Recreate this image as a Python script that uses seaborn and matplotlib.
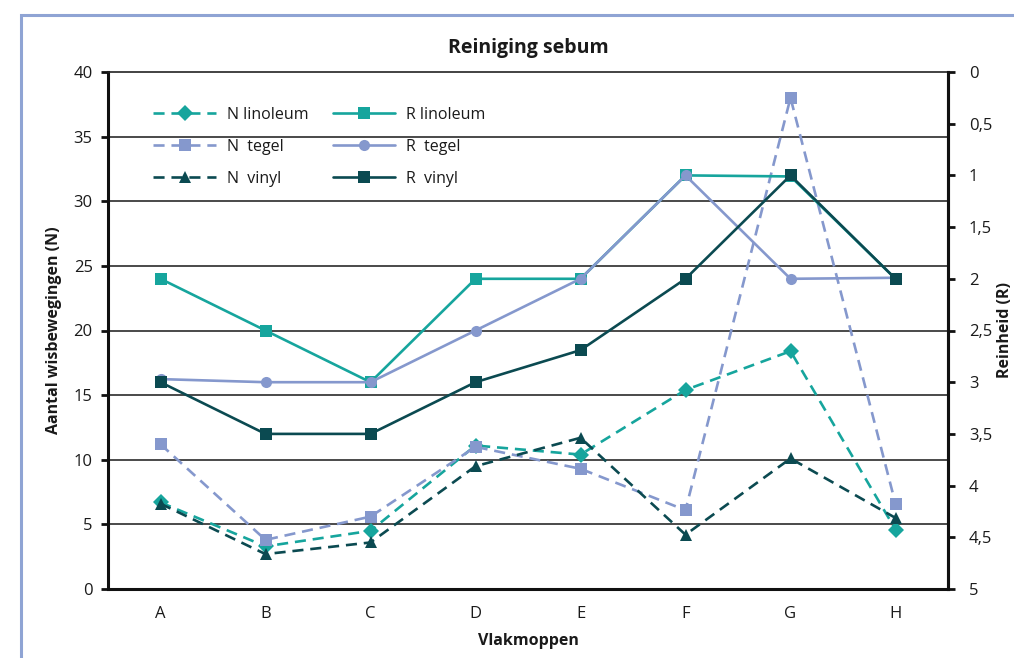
import matplotlib
matplotlib.use("Agg")
import matplotlib.pyplot as plt
from matplotlib.patches import Rectangle
from matplotlib.ticker import FixedLocator, FuncFormatter
import numpy as np
import pandas as pd
import seaborn as sns

# Categories (mop types)
categories = ["A", "B", "C", "D", "E", "F", "G", "H"]

# Number of wiping movements (left axis)
n_linoleum = [6.7, 3.3, 4.5, 11.1, 10.4, 15.4, 18.4, 4.6]
n_tegel = [11.2, 3.8, 5.6, 11.0, 9.3, 6.1, 38.0, 6.6]
n_vinyl = [6.6, 2.7, 3.6, 9.5, 11.7, 4.2, 10.1, 5.5]

# Cleanliness score (right axis, inverted)
r_linoleum = [2.0, 2.5, 3.0, 2.0, 2.0, 1.0, 1.01, 2.0]
r_tegel = [2.97, 3.0, 3.0, 2.5, 2.0, 1.0, 2.0, 1.99]
r_vinyl = [3.0, 3.5, 3.5, 3.0, 2.69, 2.0, 1.0, 2.0]

left_ticks = [0, 5, 10, 15, 20, 25, 30, 35, 40]
right_ticks = [0, 0.5, 1, 1.5, 2, 2.5, 3, 3.5, 4, 4.5, 5]

C_LINO = "#16a59d"
C_TEGEL = "#8598cd"
C_VINYL = "#0b4a51"

sns.set_style("white")
plt.rcParams["font.family"] = ["Open Sans", "DejaVu Sans"]

fig = plt.figure(figsize=(10.14, 6.58), dpi=100)
ax = fig.add_axes([108 / 1014, 1 - 589 / 658, 840 / 1014, 517 / 658])
ax2 = ax.twinx()

xpos = np.arange(len(categories))
df = pd.DataFrame({
    "x": np.tile(xpos, 6),
    "val": n_linoleum + n_tegel + n_vinyl + r_linoleum + r_tegel + r_vinyl,
    "serie": np.repeat(["N linoleum", "N  tegel", "N  vinyl",
                        "R linoleum", "R  tegel", "R  vinyl"], len(categories)),
})

dash = (0, (4.2, 2.6))
specs = [
    ("N linoleum", ax, C_LINO, "D", 8, dash),
    ("N  tegel", ax, C_TEGEL, "s", 8, dash),
    ("N  vinyl", ax, C_VINYL, "^", 8, dash),
    ("R linoleum", ax2, C_LINO, "s", 8, "-"),
    ("R  tegel", ax2, C_TEGEL, "o", 8, "-"),
    ("R  vinyl", ax2, C_VINYL, "s", 8, "-"),
]

for name, target, col, mk, ms, ls in specs:
    sub = df[df["serie"] == name]
    sns.lineplot(data=sub, x="x", y="val", ax=target, color=col, marker=mk,
                 markersize=ms, markeredgewidth=0, linestyle=ls, linewidth=1.9,
                 label=name, legend=False)

# Left axis
ax.set_ylim(0, 40)
ax.set_xlim(-0.5, len(categories) - 0.5)
ax.yaxis.set_major_locator(FixedLocator(left_ticks))
ax.set_xticks(xpos)
ax.set_xticklabels(categories)
ax.xaxis.set_minor_locator(FixedLocator(np.arange(-0.5, len(categories), 1.0)))
ax.tick_params(axis="x", which="major", length=0, pad=12, labelsize=12, colors="#1a1a1a")
ax.tick_params(axis="x", which="minor", length=5, width=2, direction="out", color="#111")
ax.tick_params(axis="y", length=5, width=2, direction="out", color="#111",
               labelsize=12, labelcolor="#1a1a1a", pad=6)
for y in left_ticks[1:-1]:
    ax.axhline(y, color="#2b2b2b", lw=1.2, zorder=0.5)

for side in ["left", "bottom", "right"]:
    ax.spines[side].set_linewidth(2.2)
    ax.spines[side].set_color("#111")
ax.spines["top"].set_linewidth(1.2)
ax.spines["top"].set_color("#222")

ax.set_xlabel("Vlakmoppen", fontsize=11.5, fontweight="bold", labelpad=8, color="#1a1a1a")
ax.set_ylabel("Aantal wisbewegingen (N)", fontsize=11.5, fontweight="bold",
              labelpad=8, color="#1a1a1a")
ax.set_title("Reiniging sebum", fontsize=14, fontweight="bold", pad=14, color="#1a1a1a")

# Right axis (inverted)
ax2.set_ylim(5, 0)
ax2.yaxis.set_major_locator(FixedLocator(right_ticks))
ax2.yaxis.set_major_formatter(FuncFormatter(lambda v, p: f"{v:g}".replace(".", ",")))
ax2.tick_params(axis="y", length=5, width=2, direction="out", color="#111",
                labelsize=12, labelcolor="#1a1a1a", pad=10)
ax2.spines["right"].set_linewidth(2.2)
ax2.spines["right"].set_color("#111")
ax2.spines["top"].set_visible(False)
ax2.spines["left"].set_visible(False)
ax2.spines["bottom"].set_visible(False)
ax2.set_ylabel("")
ax2.set_xlabel("")
fig.text(997 / 1014, 0.5 * ((1 - 589 / 658) + (1 - 72 / 658)), "Reinheid (R)",
         rotation=90, ha="left", va="center", fontsize=11.5, fontweight="bold",
         color="#1a1a1a")

# Legend combining both axes
h1, l1 = ax.get_legend_handles_labels()
h2, l2 = ax2.get_legend_handles_labels()
leg = ax2.legend(h1 + h2, l1 + l2, ncol=2, loc="upper left",
                 bbox_to_anchor=(0.037, 0.96), frameon=False, fontsize=11.5,
                 handlelength=3.9, handletextpad=0.7, columnspacing=1.5,
                 labelspacing=1.0)
for t in leg.get_texts():
    t.set_color("#1a1a1a")

# Outer frame
fig.add_artist(Rectangle((21 / 1014, -0.1), 1.2, 1.1 - 15 / 658,
                         transform=fig.transFigure, fill=False,
                         edgecolor="#8fa4d4", linewidth=2.2, clip_on=False))

fig.savefig("out.png", dpi=100)
